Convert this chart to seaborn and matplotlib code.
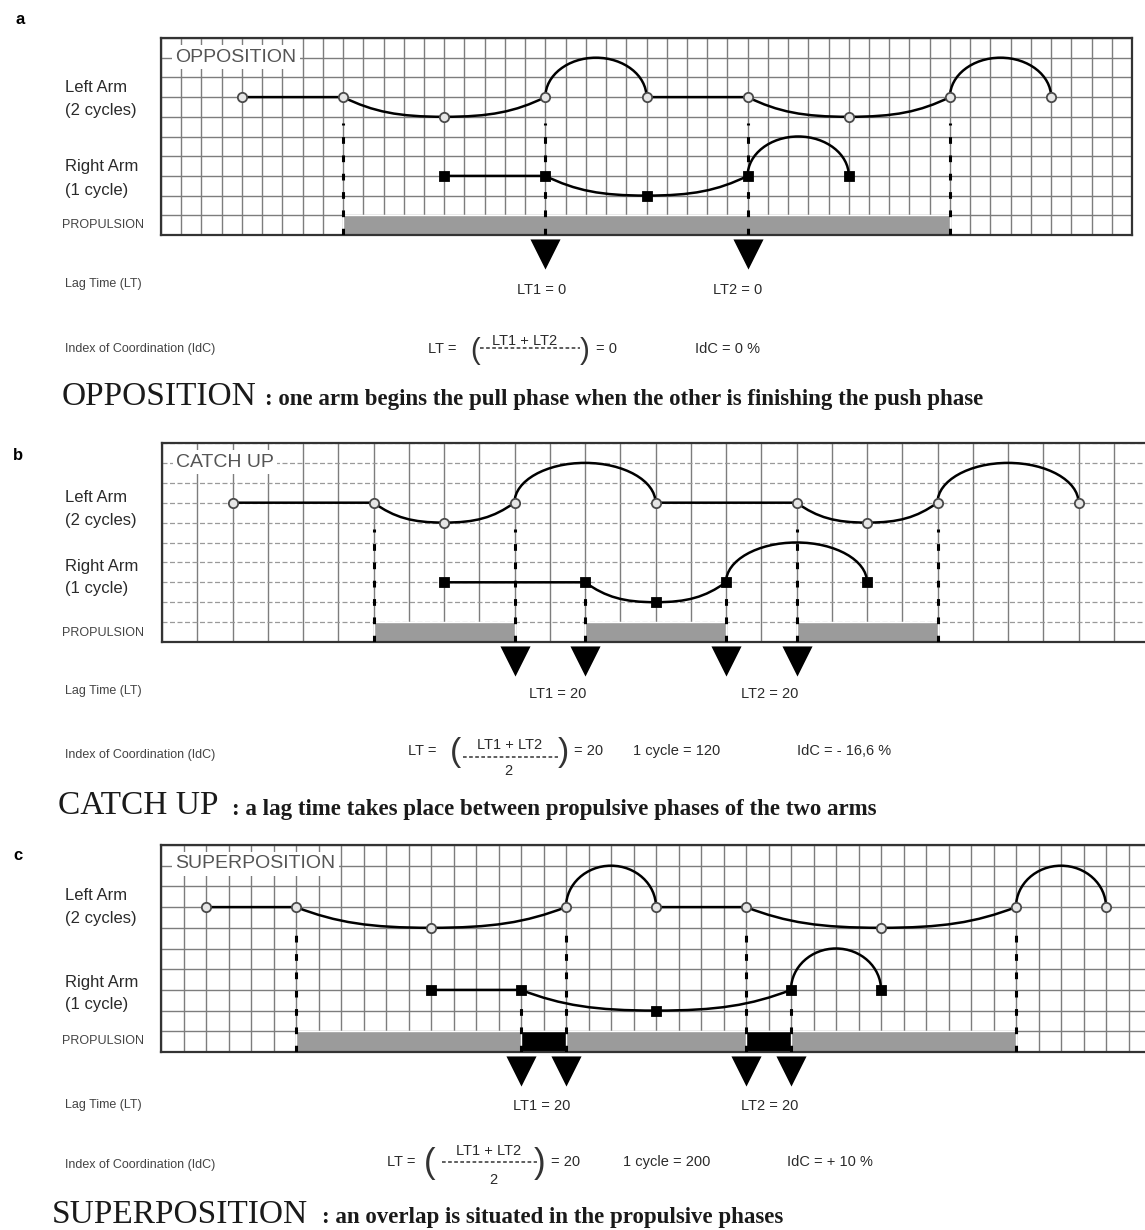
import numpy as np
import pandas as pd
import matplotlib
matplotlib.use("Agg")
import matplotlib.pyplot as plt
from matplotlib.path import Path
from matplotlib.patches import PathPatch
from matplotlib.lines import Line2D
import seaborn as sns

W, H = 1145, 1230

# ---- panel a : opposition ----
A_LEFT_PHASES = ["flat", "dip", "arc", "flat", "dip", "arc"]
A_LEFT_TIMES = [4, 9, 19, 24, 29, 39, 44]
A_RIGHT_PHASES = ["flat", "dip", "arc"]
A_RIGHT_TIMES = [14, 19, 29, 34]
A_PROPULSION = [(9, 39)]
A_OVERLAP = []
A_DASH_LONG = [9, 19, 29, 39]
A_DASH_SHORT = []
A_LAG_MARKS = [19, 29]
A_LT_LABELS = ["LT1 = 0", "LT2 = 0"]
A_LT_RESULT = "= 0"
A_CYCLE = None
A_IDC = "IdC = 0 %"

# ---- panel b : catch up ----
B_LEFT_PHASES = ["flat", "dip", "arc", "flat", "dip", "arc"]
B_LEFT_TIMES = [2, 6, 10, 14, 18, 22, 26]
B_RIGHT_PHASES = ["flat", "dip", "arc"]
B_RIGHT_TIMES = [8, 12, 16, 20]
B_PROPULSION = [(6, 10), (12, 16), (18, 22)]
B_OVERLAP = []
B_DASH_LONG = [6, 10, 18, 22]
B_DASH_SHORT = [12, 16]
B_LAG_MARKS = [10, 12, 16, 18]
B_LT_LABELS = ["LT1 = 20", "LT2 = 20"]
B_LT_RESULT = "= 20"
B_CYCLE = "1 cycle = 120"
B_IDC = "IdC = - 16,6 %"

# ---- panel c : superposition ----
C_LEFT_PHASES = ["flat", "dip", "arc", "flat", "dip", "arc"]
C_LEFT_TIMES = [2, 6, 18, 22, 26, 38, 42]
C_RIGHT_PHASES = ["flat", "dip", "arc"]
C_RIGHT_TIMES = [12, 16, 28, 32]
C_PROPULSION = [(6, 38)]
C_OVERLAP = [(16, 18), (26, 28)]
C_DASH_LONG = [6, 18, 26, 38]
C_DASH_SHORT = [16, 28]
C_LAG_MARKS = [16, 18, 26, 28]
C_LT_LABELS = ["LT1 = 20", "LT2 = 20"]
C_LT_RESULT = "= 20"
C_CYCLE = "1 cycle = 200"
C_IDC = "IdC = + 10 %"

TITLES = ["OPPOSITION", "CATCH UP", "SUPERPOSITION"]
CAPTIONS = [": one arm begins the pull phase when the other is finishing the push phase",
            ": a lag time takes place between propulsive phases of the two arms",
            ": an overlap is situated in the propulsive phases"]

sns.set_theme(style="white")
plt.rcParams["font.family"] = ["Liberation Sans", "DejaVu Sans"]

fig = plt.figure(figsize=(W / 100, H / 100), dpi=100)


def fx(x):
    return x / W


def fy(y):
    return 1 - y / H


def txt(x, y, s, size, **kw):
    kw.setdefault("va", "center")
    kw.setdefault("color", "#2a2a2a")
    fig.text(fx(x), fy(y), s, fontsize=size, **kw)


def arm_path(phases, times, base, depth=1.0, height=2.0):
    verts, codes = [(times[0], base)], [Path.MOVETO]
    marks = [(times[0], base)]
    k = 0.5523
    for ph, t0, t1 in zip(phases, times[:-1], times[1:]):
        w = (t1 - t0) / 2
        tm = t0 + w
        if ph == "flat":
            verts += [(t1, base)]
            codes += [Path.LINETO]
        elif ph == "dip":
            verts += [(t0 + 0.3 * w, base - 0.75 * depth), (tm - 0.45 * w, base - depth), (tm, base - depth),
                      (tm + 0.45 * w, base - depth), (t1 - 0.3 * w, base - 0.75 * depth), (t1, base)]
            codes += [Path.CURVE4] * 6
            marks.append((tm, base - depth))
        else:
            verts += [(t0, base + k * height), (tm - k * w, base + height), (tm, base + height),
                      (tm + k * w, base + height), (t1, base + k * height), (t1, base)]
            codes += [Path.CURVE4] * 6
        marks.append((t1, base))
    return Path(verts, codes), pd.DataFrame(marks, columns=["t", "y"])


def panel(box, xmax, right_spine, dashed_rows, left, right, prop, overlap,
          dash_long, dash_short, lags, title):
    left_px, right_px, top_px, bottom_px = box
    ax = fig.add_axes([fx(left_px), fy(bottom_px), (right_px - left_px) / W, (bottom_px - top_px) / H])
    ax.set_xlim(0, xmax)
    ax.set_ylim(0, 10)
    ax.set_xticks(np.arange(0, xmax, 1))
    ax.set_yticks(range(11))
    ax.tick_params(length=0, labelbottom=False, labelleft=False)
    ax.set_axisbelow(True)
    ax.xaxis.grid(True, color="#7d7d7d", lw=1.0)
    if dashed_rows:
        ax.yaxis.grid(True, color="#9a9a9a", lw=0.9, ls=(0, (4, 2)))
    else:
        ax.yaxis.grid(True, color="#7d7d7d", lw=1.0)
    for sp in ax.spines.values():
        sp.set_color("#333333")
        sp.set_linewidth(1.6)
    ax.spines["right"].set_visible(right_spine)

    # propulsion
    ax.broken_barh([(s, e - s) for s, e in prop], (0, 1), facecolors="#9b9b9b", zorder=2)
    if overlap:
        ax.broken_barh([(s, e - s) for s, e in overlap], (0, 1), facecolors="black", zorder=2.5)

    # dashed vertical markers
    for x in dash_long:
        ax.plot([x, x], [0, 5.7], color="black", lw=2.2, ls=(0, (2.2, 3.8)), zorder=3)
    for x in dash_short:
        ax.plot([x, x], [0, 2.3], color="black", lw=2.2, ls=(0, (2.2, 3.8)), zorder=3)

    # arms
    lp, lmarks = arm_path(left[0], left[1], 7)
    rp, rmarks = arm_path(right[0], right[1], 3)
    for p in (lp, rp):
        ax.add_patch(PathPatch(p, fill=False, lw=1.8, edgecolor="black", zorder=4))
    sns.scatterplot(data=lmarks, x="t", y="y", marker="o", s=45, color="#e6e6e6",
                    edgecolor="#4a4a4a", linewidth=1.3, ax=ax, zorder=5, legend=False)
    sns.scatterplot(data=rmarks, x="t", y="y", marker="s", s=55, color="black",
                    edgecolor="black", ax=ax, zorder=5, legend=False)
    ax.set_xlabel("")
    ax.set_ylabel("")

    # lag-time arrows
    height_px = bottom_px - top_px
    ax.scatter(lags, [-19 / height_px] * len(lags), transform=ax.get_xaxis_transform(), marker="v",
               s=470, color="black", clip_on=False, zorder=6, linewidths=0)

    ax.text(14 / (right_px - left_px), 1 - 19 / height_px, title,
            transform=ax.transAxes, fontsize=14, color="#555555", va="center", ha="left",
            bbox=dict(facecolor="white", edgecolor="none", pad=2.5), zorder=7)
    return ax


def side_labels(ys, prop_y, lag_y, idc_y):
    txt(65, ys[0], "Left Arm", 12)
    txt(65, ys[1], "(2 cycles)", 12)
    txt(65, ys[2], "Right Arm", 12)
    txt(65, ys[3], "(1 cycle)", 12)
    txt(62, prop_y, "PROPULSION", 9, color="#444444")
    txt(65, lag_y, "Lag Time (LT)", 9, color="#444444")
    txt(65, idc_y, "Index of Coordination (IdC)", 9, color="#444444")


def formula(y, x_lt, x_open, num_c, y_num, dash, y_dash, den_c, y_den, x_close, result, extras, psize):
    txt(x_lt, y, "LT =", 10.5)
    txt(x_open, y + 2, "(", psize, ha="center", color="#333333")
    txt(num_c, y_num, "LT1 + LT2", 10.5, ha="center")
    fig.add_artist(Line2D([fx(dash[0]), fx(dash[1])], [fy(y_dash), fy(y_dash)], transform=fig.transFigure,
                          color="#333333", lw=1.1, ls=(0, (2.4, 1.6))))
    if den_c is not None:
        txt(den_c, y_den, "2", 10.5, ha="center")
    txt(x_close, y + 2, ")", psize, ha="center", color="#333333")
    txt(x_close + 11, y, result, 10.5)
    for x, s in extras:
        txt(x, y, s, 10.5)


def caption(x, y, word, x_desc, desc):
    fig.text(fx(x), fy(y), word, fontsize=24, family="Liberation Serif", va="center", color="#1a1a1a")
    fig.text(fx(x_desc), fy(y + 3), desc, fontsize=16.5, family="Liberation Serif", weight="bold",
             va="center", color="#1a1a1a")


# panel a
panel((161, 1132, 38, 235), 48, True, False, (A_LEFT_PHASES, A_LEFT_TIMES), (A_RIGHT_PHASES, A_RIGHT_TIMES),
      A_PROPULSION, A_OVERLAP, A_DASH_LONG, A_DASH_SHORT, A_LAG_MARKS, TITLES[0])
txt(15, 19, "a", 12, weight="bold", color="black")
side_labels([88, 111, 167, 191], 225, 284, 349)
for xc, s in zip([542, 738], A_LT_LABELS):
    txt(xc, 290, s, 10.5, ha="center")
formula(349, 428, 475, 525, 341, (480, 580), 348, None, None, 585, A_LT_RESULT, [(695, A_IDC)], 21)
caption(62, 397, TITLES[0], 265, CAPTIONS[0])

# panel b
panel((162, 1145, 443, 642), (1145 - 162) / 35.25, False, True, (B_LEFT_PHASES, B_LEFT_TIMES),
      (B_RIGHT_PHASES, B_RIGHT_TIMES), B_PROPULSION, B_OVERLAP, B_DASH_LONG, B_DASH_SHORT, B_LAG_MARKS, TITLES[1])
txt(13, 455, "b", 12, weight="bold", color="black")
side_labels([498, 520, 567, 589], 633, 691, 755)
for xc, s in zip([558, 770], B_LT_LABELS):
    txt(xc, 694, s, 10.5, ha="center")
formula(751, 408, 455, 510, 745, (463, 558), 757, 508, 771, 563, B_LT_RESULT,
        [(633, B_CYCLE), (797, B_IDC)], 24)
caption(58, 806, TITLES[1], 232, CAPTIONS[1])

# panel c
panel((161, 1145, 845, 1052), (1145 - 161) / 22.5, False, False, (C_LEFT_PHASES, C_LEFT_TIMES),
      (C_RIGHT_PHASES, C_RIGHT_TIMES), C_PROPULSION, C_OVERLAP, C_DASH_LONG, C_DASH_SHORT, C_LAG_MARKS, TITLES[2])
txt(13, 855, "c", 12, weight="bold", color="black")
side_labels([895, 918, 982, 1004], 1041, 1105, 1165)
for xc, s in zip([542, 770], C_LT_LABELS):
    txt(xc, 1106, s, 10.5, ha="center")
formula(1162, 387, 430, 489, 1151, (442, 537), 1162, 493, 1180, 540, C_LT_RESULT,
        [(623, C_CYCLE), (787, C_IDC)], 25)
caption(52, 1215, TITLES[2], 322, CAPTIONS[2])

fig.savefig("out.png", dpi=100, facecolor="white")
